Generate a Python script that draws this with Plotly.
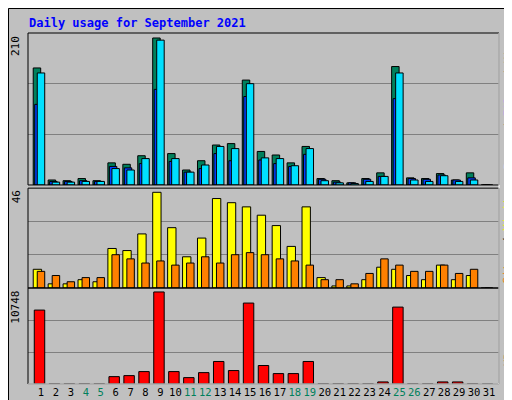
import plotly.graph_objects as go

days = list(range(1, 32))
weekend = [4, 5, 11, 12, 18, 19, 25, 26]

hits = [164, 7, 6, 9, 6, 31, 29, 41, 206, 44, 21, 34, 56, 58, 147, 47, 42, 31, 54, 9, 6, 3, 9, 17, 166, 10, 9, 16, 7, 17, 0]
files = [113, 5, 5, 6, 5, 26, 24, 30, 134, 33, 18, 23, 44, 34, 124, 35, 30, 26, 43, 8, 4, 3, 8, 12, 121, 9, 8, 14, 7, 10, 0]
pages = [157, 4, 4, 5, 5, 23, 21, 37, 203, 37, 18, 28, 54, 51, 142, 38, 37, 27, 51, 6, 3, 2, 5, 12, 157, 7, 5, 13, 5, 7, 0]
visits = [9, 2, 2, 4, 3, 19, 18, 26, 46, 29, 15, 24, 43, 41, 39, 35, 30, 20, 39, 5, 1, 1, 4, 10, 9, 6, 4, 11, 4, 6, 0]
sites = [8, 6, 3, 5, 5, 16, 14, 12, 13, 11, 12, 15, 12, 16, 17, 16, 14, 13, 11, 4, 4, 2, 7, 14, 11, 8, 8, 11, 7, 9, 0]
kbytes = [8630, 40, 40, 40, 40, 860, 980, 1450, 10748, 1450, 745, 1330, 2630, 1570, 9450, 2160, 1215, 1215, 2630,
          40, 40, 40, 40, 240, 8980, 40, 40, 240, 240, 40, 0]

GREEN = "#00805c"
BLUE = "#0040ff"
CYAN = "#00e0ff"
YELLOW = "#ffff00"
ORANGE = "#ff8000"
RED = "#ff0000"
BG = "#c0c0c0"
GRID = "#808080"
FONT = "DejaVu Sans Mono"

top_max, mid_max, bot_max = 213, 48, 11210


def bars(y, color, offset, width, yaxis):
    return go.Bar(x=days, y=y, offset=offset, width=width, yaxis=yaxis,
                  marker=dict(color=color, line=dict(color="black", width=1)),
                  hoverinfo="skip")


fig = go.Figure([
    bars(hits, GREEN, -0.52, 0.5, "y"),
    bars(files, BLUE, -0.42, 0.5, "y"),
    bars(pages, CYAN, -0.25, 0.5, "y"),
    bars(visits, YELLOW, -0.52, 0.56, "y2"),
    bars(sites, ORANGE, -0.25, 0.5, "y2"),
    bars(kbytes, RED, -0.45, 0.7, "y3"),
])

ticktext = [f'<span style="color:{GREEN}">{d}</span>' if d in weekend else str(d) for d in days]

yax = dict(showticklabels=False, ticks="", showgrid=True, gridcolor=GRID, gridwidth=1,
           zeroline=False, fixedrange=True)
fig.update_layout(
    width=512, height=400, barmode="overlay", showlegend=False,
    paper_bgcolor=BG, plot_bgcolor=BG,
    margin=dict(l=20, r=21, t=25, b=24, autoexpand=False),
    font=dict(family=FONT, size=11, color="black"),
    xaxis=dict(range=[0.13, 31.67], tickvals=days, ticktext=ticktext, ticks="", tickangle=0,
               showgrid=False, zeroline=False, anchor="y3", tickfont=dict(size=10.5)),
    yaxis=dict(domain=[0.567, 1], range=[0, top_max], tickvals=[top_max / 3, 2 * top_max / 3], **yax),
    yaxis2=dict(domain=[0.2735, 0.558], range=[0, mid_max], tickvals=[16, 32], **yax),
    yaxis3=dict(domain=[0, 0.2735], range=[0, bot_max], tickvals=[bot_max / 3, 2 * bot_max / 3], **yax),
)

shapes = []
# outer frame
shapes.append(dict(type="rect", xref="paper", yref="paper", x0=-19.5 / 471, x1=490.5 / 471,
                   y0=-23.5 / 351, y1=1 + 24.5 / 351, line=dict(color="black", width=1), layer="below"))
shapes.append(dict(type="line", xref="paper", yref="paper", x0=-18 / 471, x1=489 / 471,
                   y0=-21.5 / 351, y1=-21.5 / 351, line=dict(color="#808080", width=2)))
shapes.append(dict(type="line", xref="paper", yref="paper", x0=489 / 471, x1=489 / 471,
                   y0=-21.5 / 351, y1=1 + 22 / 351, line=dict(color="#808080", width=2)))
# panel borders
for y0, y1 in [(0.567, 1), (0.2735, 0.558), (0, 0.2735)]:
    shapes.append(dict(type="rect", xref="paper", yref="paper", x0=0, x1=1, y0=y0, y1=y1,
                       line=dict(color="black", width=1)))
shapes.append(dict(type="line", xref="paper", yref="paper", x0=1, x1=1, y0=0, y1=1,
                   line=dict(color="white", width=1)))
shapes.append(dict(type="line", xref="paper", yref="paper", x0=0, x1=1, y0=0, y1=0,
                   line=dict(color="white", width=1)))
fig.update_layout(shapes=shapes)

ann = [
    dict(text="<b>Daily usage for September 2021</b>", x=-1 / 471, y=1 + 10 / 351, xanchor="left",
         yanchor="middle", font=dict(color="#0000ff", size=12)),
    dict(text="210", x=-12 / 471, y=1 - 1 / 351, textangle=-90, xanchor="center", yanchor="top"),
    dict(text="46", x=-12 / 471, y=0.556, textangle=-90, xanchor="center", yanchor="top"),
    dict(text="10748", x=-12 / 471, y=0.27, textangle=-90, xanchor="center", yanchor="top"),
    dict(text=f'<span style="color:{CYAN}">Pages</span> / <span style="color:{BLUE}">Files</span>'
              f' / <span style="color:{GREEN}">Hits</span>',
         x=1 + 9 / 471, y=1 - 2 / 351, textangle=-90, xanchor="center", yanchor="top"),
    dict(text=f'<span style="color:{ORANGE}">Sites</span> / <span style="color:{YELLOW}">Visits</span>',
         x=1 + 9 / 471, y=0.555, textangle=-90, xanchor="center", yanchor="top"),
    dict(text=f'<span style="color:{RED}">KBytes</span>',
         x=1 + 9 / 471, y=0.17, textangle=-90, xanchor="center", yanchor="top"),
]
for a in ann:
    a.update(xref="paper", yref="paper", showarrow=False)
    a.setdefault("font", dict(size=11))
fig.update_layout(annotations=ann)

fig.write_html("out.html")
